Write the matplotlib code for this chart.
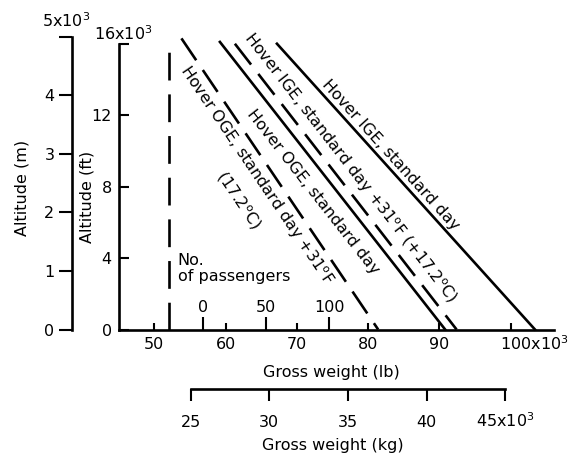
import numpy as np
import matplotlib
matplotlib.use('Agg')
import matplotlib.pyplot as plt

plt.rcParams['font.family'] = 'DejaVu Sans'
plt.rcParams['font.size'] = 11.5
plt.rcParams['lines.scale_dashes'] = False

# gross weight in 10^3 lb, altitude in 10^3 ft (line end points)
oge_hot_lb = [53.8, 81.4]
oge_hot_ft = [16.3, 0.0]
oge_std_lb = [59.2, 90.8]
oge_std_ft = [16.1, 0.0]
ige_hot_lb = [61.3, 92.4]
ige_hot_ft = [16.0, 0.0]
ige_std_lb = [67.2, 103.4]
ige_std_ft = [16.0, 0.0]
empty_lb = [52.0, 52.0]
empty_ft = [0.0, 15.75]

lb_ticks = [50, 60, 70, 80, 90, 100]
ft_ticks = [0, 4, 8, 12, 16]
m_ticks = [0, 1, 2, 3, 4, 5]
kg_ticks = [25, 30, 35, 40, 45]
pax_ticks = [0, 50, 100]

# passenger scale: empty weight + 0.1768 x 10^3 lb per passenger
PAX0_LB = 56.85
LB_PER_PAX = 0.1768
KG_PER_LB = 0.45359237
M_PER_FT = 0.3048

W, H = 574, 461
fig = plt.figure(figsize=(W / 100, H / 100), dpi=100)

left_px, right_px = 118.7, 553.5
bot_px, top_px = 329.5, 34.8
ax = fig.add_axes([left_px / W, 1 - bot_px / H, (right_px - left_px) / W, (bot_px - top_px) / H])
ax.set_xlim(45, 106)
ax.set_ylim(0, 16.5)
ax.patch.set_visible(False)

lw = 1.9
ax.plot(empty_lb, empty_ft, color='black', lw=lw, dashes=(20, 10), clip_on=False)
ax.plot(oge_hot_lb, oge_hot_ft, color='black', lw=lw, dashes=(19, 8.5), clip_on=False)
ax.plot(oge_std_lb, oge_std_ft, color='black', lw=lw, clip_on=False)
ax.plot(ige_hot_lb, ige_hot_ft, color='black', lw=lw, dashes=(19, 8.5), clip_on=False)
ax.plot(ige_std_lb, ige_std_ft, color='black', lw=lw, clip_on=False)

for s in ['top', 'right']:
    ax.spines[s].set_visible(False)
for s in ['left', 'bottom']:
    ax.spines[s].set_linewidth(lw)
ax.spines['left'].set_bounds(0, 16)

ax.set_xticks(lb_ticks)
ax.set_xticklabels([str(v) for v in lb_ticks[:-1]] + [''])
ax.tick_params(axis='x', direction='in', length=5, width=1.5, pad=5.5)
ax.set_yticks(ft_ticks)
ax.set_yticklabels([str(v) for v in ft_ticks[:-1]] + [''])
ax.tick_params(axis='y', direction='in', length=7.4, width=1.5, pad=5)

ax.annotate('100x10$^3$', xy=(100, 0), xycoords=('data', 'axes fraction'),
            xytext=(-7.7, -14.8), textcoords='offset points', ha='left', va='baseline')
ax.annotate('16x10$^3$', xy=(0, 16), xycoords=('axes fraction', 'data'),
            xytext=(3, 2.7), textcoords='offset points', ha='center', va='baseline')

# passengers scale on the weight axis
sec = ax.secondary_xaxis('bottom', functions=(lambda x: (x - PAX0_LB) / LB_PER_PAX,
                                              lambda p: PAX0_LB + p * LB_PER_PAX))
sec.set_xticks(pax_ticks)
sec.tick_params(direction='in', length=9.5, width=1.5, pad=-21)
sec.spines['bottom'].set_visible(False)
ax.text(53.3, 4.3, 'No.\nof passengers', ha='left', va='top', linespacing=1.1)

# metres axis
m_pos = (71.7 - left_px) / (right_px - left_px)
axm = ax.twinx()
axm.set_ylim(0, 16.5 * M_PER_FT)
for s in ['top', 'right', 'bottom']:
    axm.spines[s].set_visible(False)
axm.spines['left'].set_visible(True)
axm.spines['left'].set_position(('axes', m_pos))
axm.spines['left'].set_linewidth(lw)
axm.spines['left'].set_bounds(0, 5)
axm.yaxis.set_ticks_position('left')
axm.set_yticks(m_ticks)
axm.set_yticklabels([str(v) for v in m_ticks[:-1]] + [''])
axm.tick_params(axis='y', direction='out', length=9.4, width=1.5, pad=3)
axm.annotate('5x10$^3$', xy=(m_pos, 5), xycoords=('axes fraction', 'data'),
             xytext=(-4, 7), textcoords='offset points', ha='center', va='baseline')

ax.text((87 - left_px) / (right_px - left_px), (bot_px - 197) / (bot_px - top_px),
        'Altitude (ft)', rotation=90, ha='center', va='center', transform=ax.transAxes)
ax.text((22 - left_px) / (right_px - left_px), (bot_px - 188) / (bot_px - top_px),
        'Altitude (m)', rotation=90, ha='center', va='center', transform=ax.transAxes)
ax.text((331 - left_px) / (right_px - left_px), (bot_px - 372) / (bot_px - top_px),
        'Gross weight (lb)', ha='center', va='center', transform=ax.transAxes)

# kilogram axis
kg_px = 389
axk = fig.add_axes([left_px / W, 1 - kg_px / H, (right_px - left_px) / W, 0.001])
axk.set_xlim(45 * KG_PER_LB, 106 * KG_PER_LB)
axk.patch.set_visible(False)
for s in ['top', 'right', 'left']:
    axk.spines[s].set_visible(False)
axk.spines['bottom'].set_linewidth(lw)
axk.spines['bottom'].set_bounds(kg_ticks[0], kg_ticks[-1])
axk.set_yticks([])
axk.set_xticks(kg_ticks)
axk.set_xticklabels([str(v) for v in kg_ticks[:-1]] + ['45x10$^3$'])
axk.tick_params(axis='x', direction='out', length=8.6, width=1.5, pad=18.8)
for t in axk.get_xticklabels():
    t.set_verticalalignment('baseline')
ax.text((333 - left_px) / (right_px - left_px), (bot_px - 445) / (bot_px - top_px),
        'Gross weight (kg)', ha='center', va='center', transform=ax.transAxes)

# curve labels, rotated along their lines
def angle(xs, ys):
    p = ax.transData.transform(np.column_stack([xs, ys]))
    return np.degrees(np.arctan2(p[1, 1] - p[0, 1], p[1, 0] - p[0, 0]))

labels = [
    (83.1, 9.77, 'Hover IGE, standard day', angle(ige_std_lb, ige_std_ft)),
    (77.45, 9.03, 'Hover IGE, standard day +31$^{\\rm o}$F (+17.2$^{\\rm o}$C)', angle(ige_hot_lb, ige_hot_ft)),
    (72.3, 7.72, 'Hover OGE, standard day', angle(oge_std_lb, oge_std_ft)),
    (64.24, 8.65, 'Hover OGE, standard day +31$^{\\rm o}$F', angle(oge_hot_lb, oge_hot_ft)),
    (61.78, 7.25, '(17.2$^{\\rm o}$C)', angle(oge_hot_lb, oge_hot_ft)),
]
for x, y, s, a in labels:
    ax.text(x, y, s, rotation=a, rotation_mode='anchor', ha='center', va='center')

fig.savefig('out.png', dpi=100)
